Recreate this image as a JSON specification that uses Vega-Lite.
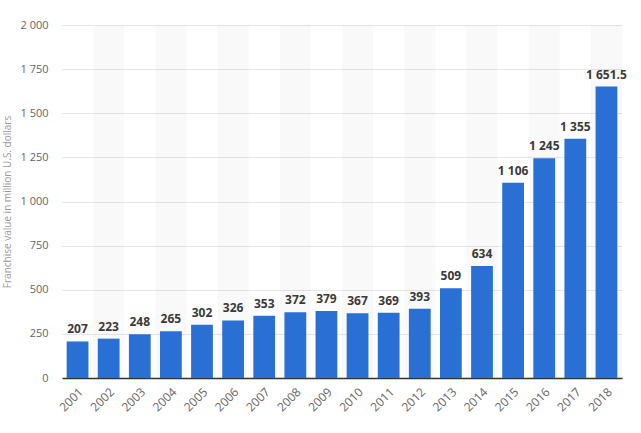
{
  "$schema": "https://vega.github.io/schema/vega-lite/v6.json",
  "width": 560,
  "height": 353,
  "autosize": {"type": "none"},
  "padding": {"left": 62, "top": 25, "right": 19, "bottom": 55},
  "background": "white",
  "config": {
    "locale": {"number": {"decimal": ".", "thousands": " ", "grouping": [3], "currency": ["$", ""]}},
    "view": {"stroke": null},
    "font": "Open Sans"
  },
  "data": {
    "values": [
      {"year": "2001", "value": 207, "band": 0},
      {"year": "2002", "value": 223, "band": 2000},
      {"year": "2003", "value": 248, "band": 0},
      {"year": "2004", "value": 265, "band": 2000},
      {"year": "2005", "value": 302, "band": 0},
      {"year": "2006", "value": 326, "band": 2000},
      {"year": "2007", "value": 353, "band": 0},
      {"year": "2008", "value": 372, "band": 2000},
      {"year": "2009", "value": 379, "band": 0},
      {"year": "2010", "value": 367, "band": 2000},
      {"year": "2011", "value": 369, "band": 0},
      {"year": "2012", "value": 393, "band": 2000},
      {"year": "2013", "value": 509, "band": 0},
      {"year": "2014", "value": 634, "band": 2000},
      {"year": "2015", "value": 1106, "band": 0},
      {"year": "2016", "value": 1245, "band": 2000},
      {"year": "2017", "value": 1355, "band": 0},
      {"year": "2018", "value": 1651.5, "band": 2000}
    ]
  },
  "encoding": {
    "x": {
      "field": "year",
      "type": "ordinal",
      "scale": {"paddingInner": 0, "paddingOuter": 0},
      "axis": {
        "title": null,
        "labelAngle": -45,
        "labelColor": "#666666",
        "labelFontSize": 12,
        "labelPadding": 8,
        "ticks": false,
        "domainColor": "#333333",
        "domainWidth": 1.5,
        "grid": false
      }
    }
  },
  "layer": [
    {
      "mark": {"type": "bar", "color": "#000000", "opacity": 0.022, "width": {"band": 1}},
      "encoding": {
        "y": {"field": "band", "type": "quantitative", "scale": {"domain": [0, 2000]}}
      }
    },
    {
      "mark": {"type": "bar", "color": "#2a6fd4", "width": {"band": 0.7}},
      "encoding": {
        "y": {
          "field": "value",
          "type": "quantitative",
          "scale": {"domain": [0, 2000]},
          "axis": {
            "title": "Franchise value in million U.S. dollars",
            "titleColor": "#999999",
            "titleFontSize": 10,
            "titleFontWeight": "normal",
            "titlePadding": 7,
            "values": [0, 250, 500, 750, 1000, 1250, 1500, 1750, 2000],
            "format": ",d",
            "labelColor": "#666666",
            "labelFontSize": 11,
            "labelPadding": 14,
            "ticks": false,
            "domain": false,
            "gridColor": "#e6e6e6",
            "gridWidth": 1
          }
        }
      }
    },
    {
      "mark": {"type": "text", "baseline": "bottom", "dy": -5, "fontWeight": "bold", "fontSize": 12, "color": "#3a3a3a"},
      "encoding": {
        "y": {"field": "value", "type": "quantitative"},
        "text": {"field": "value", "type": "quantitative", "format": ",.1~f"}
      }
    }
  ]
}
